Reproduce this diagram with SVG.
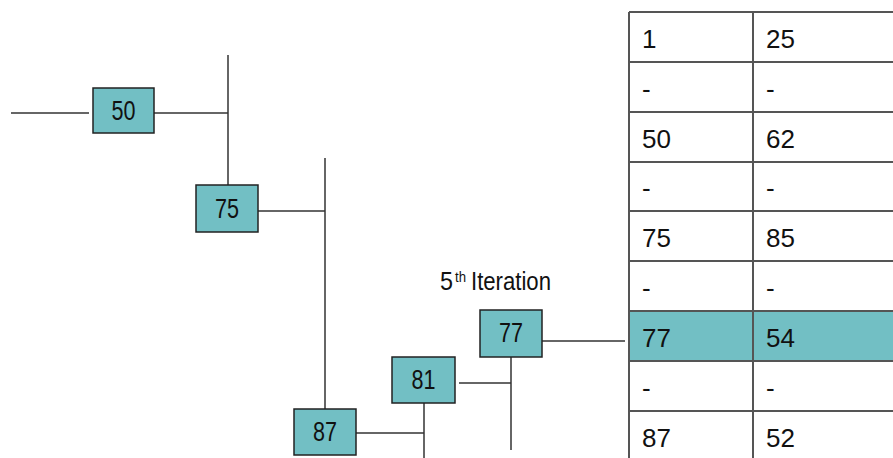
<svg xmlns="http://www.w3.org/2000/svg" width="893" height="458" viewBox="0 0 893 458">
<style>
.node rect{fill:#72bfc4;stroke:#222;stroke-width:1.5}
.node text{font-family:"Liberation Sans",Arial,sans-serif;font-size:27px;fill:#111;text-anchor:middle}
.conn line{stroke:#333;stroke-width:1.5}
.grid line{stroke:#555;stroke-width:2}
.cell{font-family:"Liberation Sans",Arial,sans-serif;font-size:26px;fill:#111}
.lbl{font-family:"Liberation Sans",Arial,sans-serif;fill:#111}
</style>
<rect width="893" height="458" fill="#fff"/>
<g id="connectors" class="conn">
<line x1="11" y1="113" x2="89" y2="113"/>
<line x1="154" y1="113" x2="228" y2="113"/>
<line x1="228" y1="55" x2="228" y2="185"/>
<line x1="258" y1="211" x2="325" y2="211"/>
<line x1="325" y1="158" x2="325" y2="409"/>
<line x1="356" y1="433" x2="424" y2="433"/>
<line x1="424" y1="403" x2="424" y2="458"/>
<line x1="459" y1="383" x2="511" y2="383"/>
<line x1="511" y1="357" x2="511" y2="450"/>
<line x1="542" y1="341" x2="625" y2="341"/>
</g>
<g id="table">
<rect x="629" y="311" width="264" height="50" fill="#72bfc4"/>
<g class="grid">
<line x1="629" y1="12" x2="629" y2="458"/>
<line x1="753" y1="12" x2="753" y2="458"/>
<line x1="629" y1="12" x2="893" y2="12"/>
<line x1="629" y1="62" x2="893" y2="62"/>
<line x1="629" y1="112" x2="893" y2="112"/>
<line x1="629" y1="162" x2="893" y2="162"/>
<line x1="629" y1="211" x2="893" y2="211"/>
<line x1="629" y1="261" x2="893" y2="261"/>
<line x1="629" y1="311" x2="893" y2="311"/>
<line x1="629" y1="361" x2="893" y2="361"/>
<line x1="629" y1="411" x2="893" y2="411"/>
</g>
<text class="cell" x="642" y="48">1</text><text class="cell" x="766" y="48">25</text>
<text class="cell" x="642" y="98">-</text><text class="cell" x="766" y="98">-</text>
<text class="cell" x="642" y="148">50</text><text class="cell" x="766" y="148">62</text>
<text class="cell" x="642" y="197">-</text><text class="cell" x="766" y="197">-</text>
<text class="cell" x="642" y="247">75</text><text class="cell" x="766" y="247">85</text>
<text class="cell" x="642" y="297">-</text><text class="cell" x="766" y="297">-</text>
<text class="cell" x="642" y="347">77</text><text class="cell" x="766" y="347">54</text>
<text class="cell" x="642" y="397">-</text><text class="cell" x="766" y="397">-</text>
<text class="cell" x="642" y="447">87</text><text class="cell" x="766" y="447">52</text>
</g>
<g id="n50" class="node"><rect x="93" y="88" width="61" height="45"/><text x="123.5" y="120" textLength="24" lengthAdjust="spacingAndGlyphs">50</text></g>
<g id="n75" class="node"><rect x="196" y="185" width="62" height="47"/><text x="227" y="218" textLength="24" lengthAdjust="spacingAndGlyphs">75</text></g>
<g id="n87" class="node"><rect x="294" y="409" width="62" height="46"/><text x="325" y="441" textLength="24" lengthAdjust="spacingAndGlyphs">87</text></g>
<g id="n81" class="node"><rect x="392" y="357" width="63" height="46"/><text x="423.5" y="389" textLength="24" lengthAdjust="spacingAndGlyphs">81</text></g>
<g id="n77" class="node"><rect x="480" y="310" width="62" height="47"/><text x="511" y="342" textLength="24" lengthAdjust="spacingAndGlyphs">77</text></g>
<g id="label">
<text class="lbl" x="440" y="290" font-size="25" textLength="13" lengthAdjust="spacingAndGlyphs">5</text>
<text class="lbl" x="455" y="282" font-size="15" textLength="11" lengthAdjust="spacingAndGlyphs">th</text>
<text class="lbl" x="471" y="290" font-size="25" textLength="80" lengthAdjust="spacingAndGlyphs">Iteration</text>
</g>
</svg>
